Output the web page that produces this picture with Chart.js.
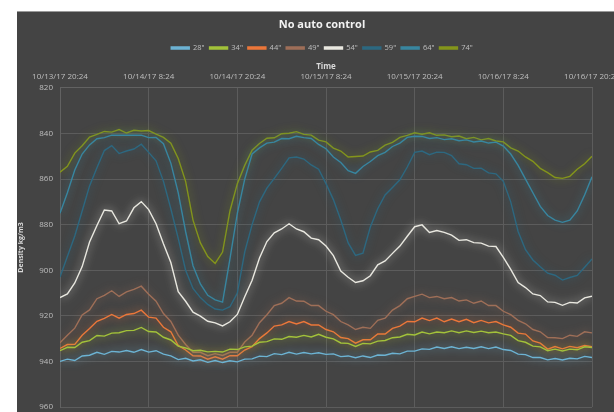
<!DOCTYPE html>
<html>
<head>
<meta charset="utf-8">
<script src="https://cdn.jsdelivr.net/npm/chart.js@4/dist/chart.umd.min.js"></script>
<style>
  html, body { margin: 0; padding: 0; background: #ffffff; }
  #frame { position: absolute; left: 17px; top: 11px; width: 597px; height: 401px; background: #444444; border-top: 1px solid #9a9a9a; box-sizing: border-box; overflow: hidden; }
  #c { position: absolute; left: 0; top: 0; }
</style>
</head>
<body>
<div id="frame"><canvas id="c" width="610" height="400"></canvas></div>
<script>
// Hours since 10/13/17 20:24
const hours = [];
for (let h = 0; h <= 72; h++) hours.push(h);

const timeTickLabels = ['10/13/17 20:24', '10/14/17 8:24', '10/14/17 20:24', '10/15/17 8:24', '10/15/17 20:24', '10/16/17 8:24', '10/16/17 20:24'];
const seriesNames = ['28"', '34"', '44"', '49"', '54"', '59"', '64"', '74"'];

const s28 = [940,939,939.6,937.6,937.3,936,936.9,935.6,935.9,935.2,936,934.8,935.9,935.3,936.8,937.6,939.2,938.6,939.8,939.3,940.4,939.6,940.5,939.7,940.2,939,938.9,937.7,937.9,936.6,937,936,936.8,936.1,936.7,936.2,936.9,936.7,937.9,937.6,938.4,937.6,938.3,937.2,937.3,936.4,936.7,935.5,935.5,934.5,934.7,933.7,934.3,933.6,934.4,933.8,934.3,933.6,934.4,933.7,934.8,935.2,936.8,937,938.3,938.3,939.3,938.7,939.4,938.6,938.9,937.8,938.3];
const s34 = [935.3,933.8,933.9,931.6,930.9,928.6,928.9,927.6,927.4,926.5,926.4,925.1,926.9,927.1,929.4,930.6,933.3,934.1,935.3,935.1,935.8,935.6,935.9,934.6,934.8,933.6,933.3,931.6,931.3,930.1,930.3,929.1,929.4,928.6,929.3,928.1,929.4,930.1,931.9,932.1,933.4,932.1,932.3,931.1,930.8,929.6,929.3,928.1,928.4,927.1,927.9,927.1,927.4,926.6,927.4,926.6,927.3,926.7,927.4,927.1,927.9,928.6,930.9,931.6,933.3,933.6,935.3,934.6,935.4,934.6,934.9,933.6,933.9];
const s44 = [934.3,932.6,932.5,928.5,925.6,922.4,921.1,919.4,921,919.4,919,917.5,920.6,921,925,927,933,935,937.5,937.6,939,938,939,937.5,937.5,935,933.5,930,927.5,924.5,924,922.5,923.6,922.5,924,924,926,927,929.5,930,932,930.5,930.5,928,928,925.5,924.5,922.5,922.6,921,922.1,921,922.6,921.4,922.6,921.5,923,922,923.1,922.5,924,925,927.6,928,931,932,934.6,933.5,934.5,933.4,934,933,933.5];
const s49 = [931.8,928.5,925.4,919.6,917.4,912.5,911,909,911.5,909.5,908.4,907,910.5,913.6,919,922.5,928.5,932.6,936,936,937.5,936.6,937.4,936,936,931.5,928.5,923,919.5,915.5,914.5,912,913.5,913.6,915.5,915.5,918,919.5,922.5,924,926,925,925.5,922,921,917.5,915.5,912.5,911.5,910.5,912,911.5,912.5,912,913.5,913,914.5,913.5,915.5,915.5,918,919.5,922,923.5,926,927,929.5,929.6,930,928.5,929,927,927.5];
const s54 = [912,910.4,905.6,898.4,887.6,880.4,873.6,874,879.6,878.4,872.6,869.9,873.4,879.6,888.4,896.6,909.4,913.6,918.4,920.1,922.4,923.1,924.4,922.6,919.4,911.6,904.4,894.6,887.4,883.6,881.9,879.6,881.9,883.1,885.9,886.6,889.4,893.6,900.4,903.1,905.4,904.6,902.4,897.6,895.9,892.6,889.4,885.1,880.9,880.1,883.4,882.6,883.4,884.6,886.9,886.6,887.9,888.1,889.4,889.6,894.4,899.6,905.4,907.6,910.4,911.1,913.9,914.1,915.4,914.1,914.4,912.1,911.4];
const s59 = [903,894,885,874,863,855,847.5,845.3,848.8,847.7,846.8,844.7,848.3,852,861,873,886,900,908,912,915,917,917.5,916,910,892,880,870,864,859.7,855.3,850.7,850.3,851.2,853.8,855.7,862,869,878,888,893.5,892.5,881,873,867,863.7,860.3,854.7,848.3,847.7,849.3,848.2,848.3,849.7,853.3,853.7,855.3,855.2,857.3,857.7,861,870,883,891,895.5,898.5,901.3,902.2,904.3,903.2,902.3,898.7,895];
const s64 = [875,866,856,849,845,842.3,841.8,840.7,840.8,840.7,840.8,840.7,841.8,841.7,844.5,853,866,883,898,906,911,913,914,895,875,860,849,846.3,844.2,843.8,842.2,842.3,841.2,841.8,842.2,844.8,846.7,850.3,852.7,856.3,857.5,854.5,852.3,849.7,848.3,845.7,844.2,841.7,841.2,841.3,842.2,841.8,842.7,842.3,843.2,842.8,843.7,843.3,844.2,843.8,845.5,849,854,860,866,872,876,878,879,878,874,867,859];
const s74 = [857,854.4,848.6,845.4,841.6,840.4,839.1,839.4,838.3,839.8,838.6,838.9,838.7,840.3,841.7,844.3,851,861,878,888,894,897,892,874,862,854,847.3,844.4,842.1,841.9,840.1,839.9,839.2,840.4,840.7,842.9,843.7,846.4,847.7,850.3,850.1,849.9,848.1,847.4,845.1,843.9,841.7,840.8,839.7,840.3,839.7,840.8,840.6,841.4,841.1,842.3,841.7,842.8,842.2,843.3,843.7,846.3,847.7,850.3,852.2,855.3,857.2,859.3,859.7,858.8,855.7,853.3,850];

const seriesValues = [s28, s34, s44, s49, s54, s59, s64, s74];
const seriesColors = ['#6cb3d3', '#a3c23a', '#ec773a', '#9f6f58', '#e9e8e0', '#2d6880', '#3886a0', '#84951b'];

function hexA(hex, a) {
  const n = parseInt(hex.slice(1), 16);
  return `rgba(${(n>>16)&255},${(n>>8)&255},${n&255},${a})`;
}

const glow = {
  id: 'glow',
  beforeDatasetDraw(chart, args) {
    const ds = chart.data.datasets[args.index];
    chart.ctx.save();
    chart.ctx.shadowColor = hexA(ds.borderColor, 0.85);
    chart.ctx.shadowBlur = 8;
  },
  afterDatasetDraw(chart) { chart.ctx.restore(); }
};

const datasets = seriesNames.map((name, i) => ({
  label: name,
  data: hours.map((h, k) => ({ x: h, y: seriesValues[i][k] })),
  borderColor: seriesColors[i],
  backgroundColor: seriesColors[i],
  borderWidth: 1.4,
  pointRadius: 0,
  tension: 0,
  fill: false
}));

new Chart(document.getElementById('c'), {
  type: 'line',
  data: { datasets },
  plugins: [glow],
  options: {
    responsive: false,
    animation: false,
    layout: { padding: { left: 0, right: 0, top: 5, bottom: 5 } },
    plugins: {
      title: {
        display: true, text: 'No auto control', color: '#f2f2f2',
        font: { family: 'Open Sans', size: 11, weight: 'bold' }, padding: { top: 1, bottom: 8 }
      },
      legend: {
        display: true, position: 'top',
        labels: {
          color: '#bfbfbf', boxWidth: 18, boxHeight: 2, padding: 5,
          font: { family: 'Open Sans', size: 7.5 }
        }
      },
      tooltip: { enabled: false }
    },
    scales: {
      x: {
        type: 'linear', position: 'top', min: 0, max: 72,
        ticks: {
          stepSize: 12, color: '#bfbfbf', font: { family: 'Open Sans', size: 8 }, padding: 6,
          maxRotation: 0, autoSkip: false,
          callback: (v) => timeTickLabels[Math.round(v / 12)]
        },
        grid: { color: '#5c5c5c', lineWidth: 1, drawTicks: false },
        border: { color: '#626262' },
        title: { display: true, text: 'Time', color: '#d9d9d9', font: { family: 'Open Sans', size: 8, weight: 'bold' }, padding: { top: 0, bottom: -5 } },
        afterFit(scale) { scale.paddingLeft = 0; scale.paddingRight = 35; }
      },
      y: {
        reverse: true, min: 820, max: 960,
        ticks: { stepSize: 20, color: '#bfbfbf', font: { family: 'Open Sans', size: 8 }, padding: 7 },
        grid: { color: '#5c5c5c', lineWidth: 1, drawTicks: false },
        border: { color: '#626262' },
        title: { display: true, text: 'Density kg/m3', color: '#d9d9d9', font: { family: 'Open Sans', size: 7, weight: 'bold' }, padding: { top: 0, bottom: 0 } },
        afterFit(scale) { scale.width = 43; scale.paddingTop = 0; scale.paddingBottom = 0; }
      }
    }
  }
});
</script>
</body>
</html>
